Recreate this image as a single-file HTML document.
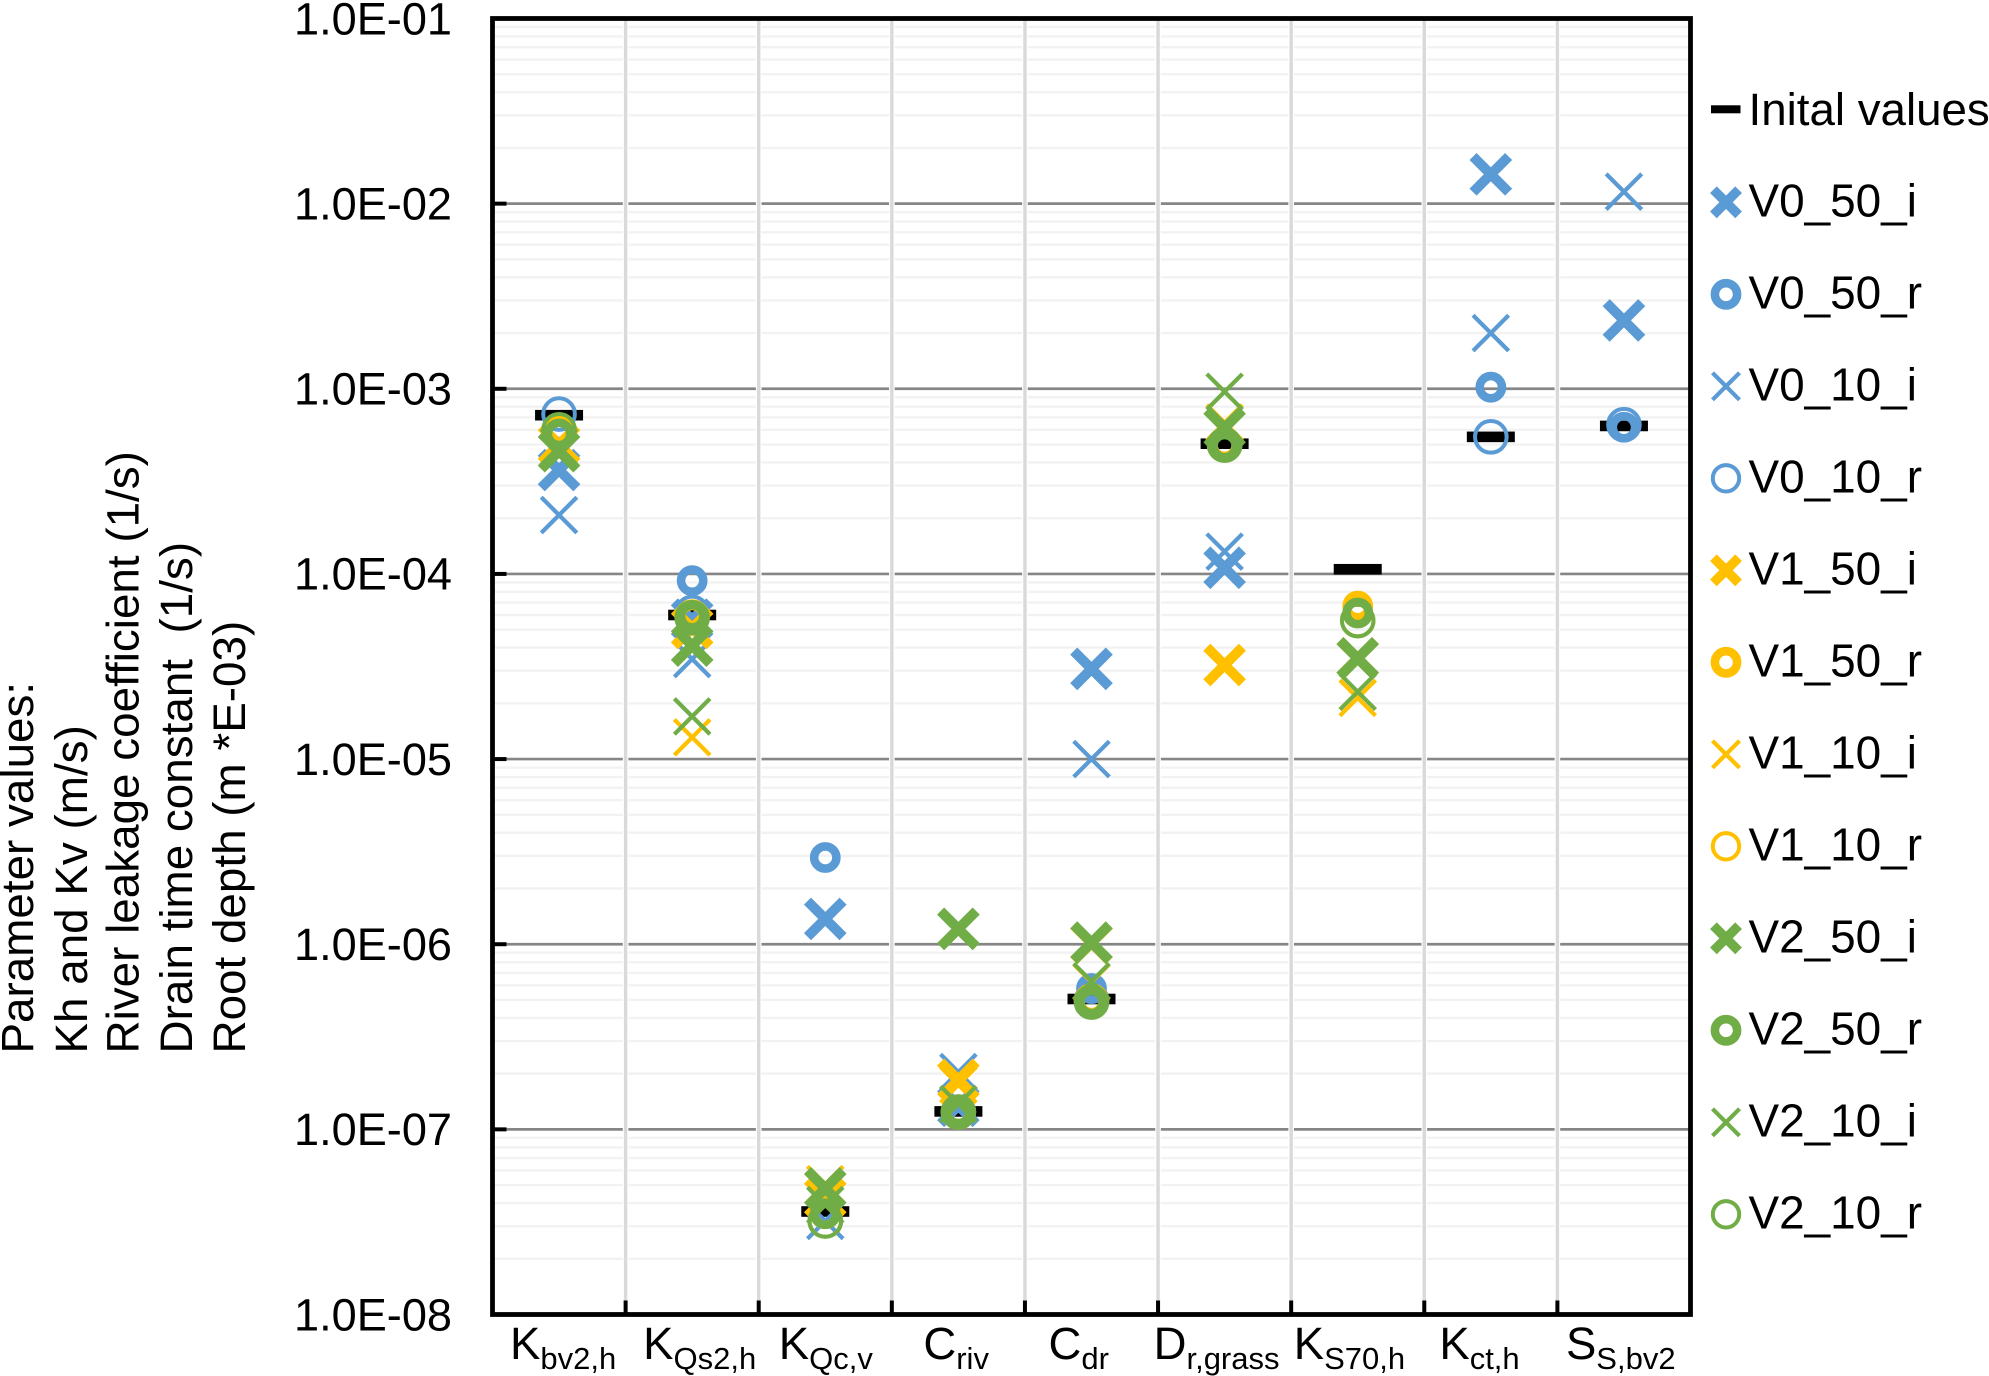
<!DOCTYPE html>
<html>
<head>
<meta charset="utf-8">
<title>Parameter values chart</title>
<style>
html,body{margin:0;padding:0;background:#fff;}
svg{display:block;}
text{font-family:"Liberation Sans",sans-serif;fill:#000;white-space:pre;}
</style>
</head>
<body>
<svg id="chart" xmlns="http://www.w3.org/2000/svg" width="1989" height="1376" viewBox="0 0 1989 1376">
  <rect x="0" y="0" width="1989" height="1376" fill="#fff"/>
  <g id="grid"></g>
  <g id="marks"></g>
  <g id="axes"></g>
  <g font-size="45.8" xml:space="preserve">
    <text transform="translate(33,1053.5) rotate(-90)">Parameter values:</text>
    <text transform="translate(87,1053.5) rotate(-90)">Kh and Kv (m/s)</text>
    <text transform="translate(138.5,1053.5) rotate(-90)">River leakage coefficient (1/s)</text>
    <text transform="translate(192,1053.5) rotate(-90)">Drain time constant  (1/s)</text>
    <text transform="translate(245,1053.5) rotate(-90)">Root depth (m *E-03)</text>
  </g>
  <g id="legend"></g>
</svg>
<script>
const categories = [["K","bv2,h"],["K","Qs2,h"],["K","Qc,v"],["C","riv"],["C","dr"],["D","r,grass"],["K","S70,h"],["K","ct,h"],["S","S,bv2"]];
const yTickValues = [1e-1,1e-2,1e-3,1e-4,1e-5,1e-6,1e-7,1e-8];
const yTickLabels = ["1.0E-01","1.0E-02","1.0E-03","1.0E-04","1.0E-05","1.0E-06","1.0E-07","1.0E-08"];
const initialValues = [7.2e-4,6.0e-5,3.6e-8,1.25e-7,5.06e-7,5.05e-4,1.06e-4,5.5e-4,6.3e-4];
const V0_50_i = [3.64e-4,5.66e-5,1.37e-6,1.34e-7,3.07e-5,1.08e-4,null,1.44e-2,2.34e-3];
const V0_50_r = [6.0e-4,9.2e-5,2.94e-6,1.24e-7,5.76e-7,4.97e-4,null,1.02e-3,6.2e-4];
const V0_10_i = [2.08e-4,3.47e-5,3.2e-8,2.04e-7,1.0e-5,1.32e-4,null,2.0e-3,1.16e-2];
const V0_10_r = [7.3e-4,6.2e-5,3.2e-8,1.24e-7,5.0e-7,4.97e-4,null,5.5e-4,6.4e-4];
const V1_50_i = [5.0e-4,5.1e-5,4.26e-8,1.85e-7,1.015e-6,3.22e-5,3.5e-5,null,null];
const V1_50_r = [5.8e-4,5.85e-5,3.5e-8,1.24e-7,4.93e-7,4.97e-4,6.7e-5,null,null];
const V1_10_i = [4.6e-4,1.31e-5,5.06e-8,1.74e-7,6.25e-7,6.56e-4,2.14e-5,null,null];
const V1_10_r = [5.8e-4,5.85e-5,3.2e-8,1.24e-7,4.93e-7,4.97e-4,5.6e-5,null,null];
const V2_50_i = [4.6e-4,4.1e-5,4.8e-8,1.21e-6,1.02e-6,6.14e-4,3.5e-5,null,null];
const V2_50_r = [5.7e-4,5.9e-5,3.5e-8,1.24e-7,4.87e-7,4.9e-4,6.15e-5,null,null];
const V2_10_i = [4.85e-4,1.7e-5,3.9e-8,1.37e-7,6.3e-7,9.64e-4,2.31e-5,null,null];
const V2_10_r = [6.0e-4,5.8e-5,3.2e-8,1.24e-7,4.87e-7,4.97e-4,5.6e-5,null,null];
const seriesNames = ["V0_50_i","V0_50_r","V0_10_i","V0_10_r","V1_50_i","V1_50_r","V1_10_i","V1_10_r","V2_50_i","V2_50_r","V2_10_i","V2_10_r"];
const seriesValues = [V0_50_i,V0_50_r,V0_10_i,V0_10_r,V1_50_i,V1_50_r,V1_10_i,V1_10_r,V2_50_i,V2_50_r,V2_10_i,V2_10_r];
const labelShift = [-49,-49,-46.5,-35,-43,-71,-64,-51.5,-58];

const NS = "http://www.w3.org/2000/svg";
const plotLeft = 492.5, plotRight = 1690.5, plotTop = 18.5, plotBottom = 1314.5;
const catWidth = (plotRight - plotLeft) / categories.length;
const decade = (plotBottom - plotTop) / 7;

function xScale(i) { return plotLeft + (i + 0.5) * catWidth; }
function xEdge(i) { return plotLeft + i * catWidth; }
function yScale(v) { return plotTop + (-1 - Math.log10(v)) * decade; }
function seriesColor(name) {
  const k = name.slice(0, 2);
  return k === "V0" ? "#5B9BD5" : k === "V1" ? "#FFC000" : "#70AD47";
}
function make(tag, parent, props) {
  const el = document.createElementNS(NS, tag);
  for (const k in props) el.setAttribute(k, props[k]);
  parent.appendChild(el);
  return el;
}
function crossPath(cx, cy, a) {
  return "M" + (cx - a) + " " + (cy - a) + "L" + (cx + a) + " " + (cy + a) + "M" + (cx - a) + " " + (cy + a) + "L" + (cx + a) + " " + (cy - a);
}
function drawSeriesMark(parent, name, cx, cy, legend) {
  const thick = name.indexOf("_50_") >= 0;
  const isCross = name.charAt(name.length - 1) === "i";
  const color = seriesColor(name);
  let el;
  if (isCross) {
    const a = legend ? (thick ? 12.6 : 13.5) : 17.8;
    el = make("path", parent, { d: crossPath(cx, cy, a), fill: "none", stroke: color, "stroke-width": thick ? (legend ? 9.5 : 10) : 4.2 });
  } else {
    const r = thick ? 11.1 : (legend ? 13.2 : 15.8);
    el = make("circle", parent, { cx: cx, cy: cy, r: r, fill: "none", stroke: color, "stroke-width": thick ? 8.6 : 4 });
  }
  return el;
}

const grid = document.getElementById("grid");
const marks = document.getElementById("marks");
const axes = document.getElementById("axes");
const legend = document.getElementById("legend");

// minor gridlines
for (let e = 1; e < 8; e++) {
  for (let m = 2; m <= 9; m++) {
    const y = yScale(m * Math.pow(10, -e - 1));
    const line = make("line", grid, { x1: plotLeft, x2: plotRight, y1: y, y2: y, stroke: "#f2f2f2", "stroke-width": 2.4 });
    
    
  }
}
// major gridlines
yTickValues.forEach(function (v) {
  const y = yScale(v);
  const line = make("line", grid, { x1: plotLeft, x2: plotRight, y1: y, y2: y, stroke: "#868686", "stroke-width": 2.7 });
  
  
});
// vertical gridlines
for (let i = 1; i < categories.length; i++) {
  const x = xEdge(i);
  const halo = make("line", grid, { x1: x, x2: x, y1: plotTop, y2: plotBottom, stroke: "#fff", "stroke-width": 5.6 });
  
  
  const line = make("line", grid, { x1: x, x2: x, y1: plotTop, y2: plotBottom, stroke: "#d9d9d9", "stroke-width": 3.4 });
  
  
}

// initial-value dashes
initialValues.forEach(function (v, i) {
  if (v === null) return;
  const dash = make("rect", marks, { x: xScale(i) - 24, y: yScale(v) - 5.3, width: 48, height: 10.6, fill: "#000" });
  
  
});
// series
seriesNames.forEach(function (name, s) {
  const g = make("g", marks, {});
  
  
  seriesValues[s].forEach(function (v, i) {
    if (v === null) return;
    const mark = drawSeriesMark(g, name, xScale(i), yScale(v), false);
    
    
  });
});

// spines
const frame = make("rect", axes, { x: plotLeft, y: plotTop, width: plotRight - plotLeft, height: plotBottom - plotTop, fill: "none", stroke: "#000", "stroke-width": 4.8 });



// y ticks and labels
yTickValues.forEach(function (v, i) {
  const y = yScale(v);
  if (i > 0 && i < yTickValues.length - 1) {
    const t = make("line", axes, { x1: plotLeft, x2: plotLeft + 14, y1: y, y2: y, stroke: "#000", "stroke-width": 4 });
    
    
  }
  const lab = make("text", axes, { x: 452, y: y + 15.8, "text-anchor": "end", "font-size": 45.1 });
  lab.textContent = yTickLabels[i];
  
  
});
// x ticks and labels
categories.forEach(function (c, i) {
  if (i > 0) {
    const x = xEdge(i);
    const t = make("line", axes, { x1: x, x2: x, y1: plotBottom, y2: plotBottom - 14, stroke: "#000", "stroke-width": 4 });
    
    
  }
  const lab = make("text", axes, { x: xScale(i) + labelShift[i], y: 1359, "font-size": 45.5 });
  
  
  const main = make("tspan", lab, {});
  main.textContent = c[0];
  const sub = make("tspan", lab, { dy: 10, "font-size": 31 });
  sub.textContent = c[1];
});

// legend
const legendX = 1726, legendTextX = 1748.5;
const initEntry = make("g", legend, {});


make("rect", initEntry, { x: 1711, y: 105.3, width: 29.5, height: 8, fill: "#000" });
const initText = make("text", initEntry, { x: legendTextX, y: 125, "font-size": 45.7 });
initText.textContent = "Inital values";
seriesNames.forEach(function (name, s) {
  const entry = make("g", legend, {});
  
  
  const cy = 202.3 + s * 92;
  drawSeriesMark(entry, name, legendX, cy, true);
  const t = make("text", entry, { x: legendTextX, y: 216.7 + s * 92, "font-size": 45.9 });
  t.textContent = name;
});
</script>
</body>
</html>
